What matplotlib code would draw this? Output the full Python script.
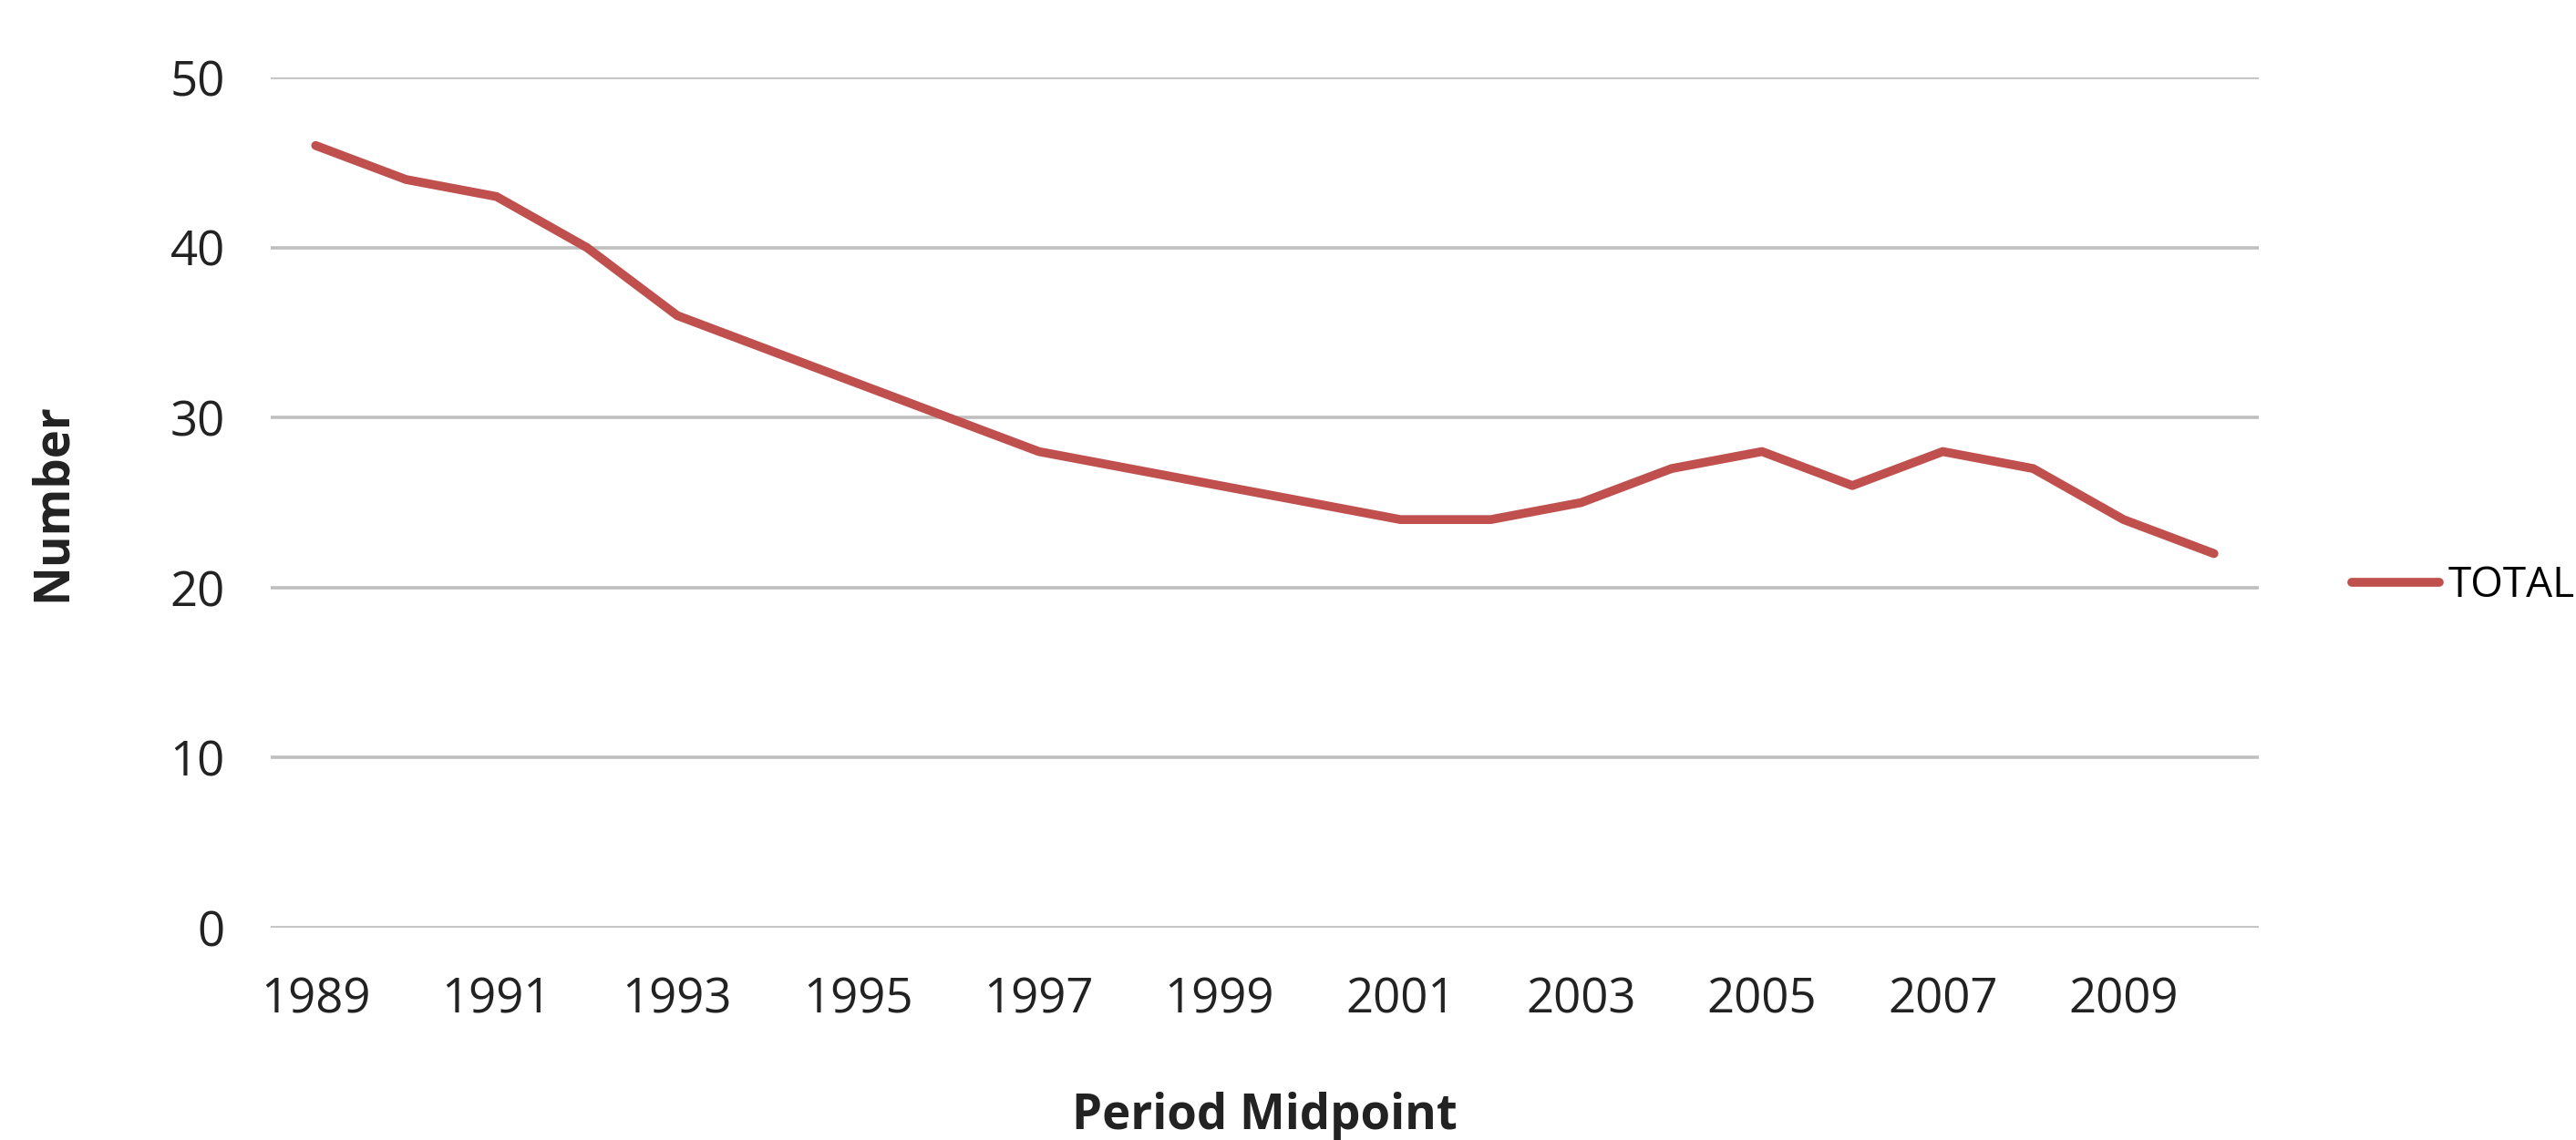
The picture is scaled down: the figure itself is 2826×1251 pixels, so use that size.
import matplotlib
matplotlib.use("Agg")
import matplotlib.pyplot as plt

years = [1989, 1990, 1991, 1992, 1993, 1994, 1995, 1996, 1997, 1998, 1999,
         2000, 2001, 2002, 2003, 2004, 2005, 2006, 2007, 2008, 2009, 2010]
total = [46, 44, 43, 40, 36, 34, 32, 30, 28, 27, 26,
         25, 24, 24, 25, 27, 28, 26, 28, 27, 24, 22]
tick_years = [1989, 1991, 1993, 1995, 1997, 1999, 2001, 2003, 2005, 2007, 2009]
y_ticks = [0, 10, 20, 30, 40, 50]

plt.rcParams['font.family'] = ['Open Sans', 'DejaVu Sans']

fig = plt.figure(figsize=(28.26, 12.51), dpi=100)
ax = fig.add_axes([0.105, 0.1863, 0.772, 0.7457])

ax.plot(years, total, color='#C0504D', linewidth=7, solid_capstyle='round',
        solid_joinstyle='round', label='TOTAL', zorder=3)

ax.set_xlim(1988.5, 2010.5)
ax.set_ylim(0, 50)
ax.set_yticks(y_ticks)
ax.set_xticks(tick_years)
ax.set_xticklabels([str(y) for y in tick_years])
ax.grid(axis='y', color='#BFBFBF', linewidth=2.6, zorder=1)
ax.set_axisbelow(True)
for s in ax.spines.values():
    s.set_visible(False)
ax.tick_params(axis='both', length=0, labelsize=38, colors='#222222')
ax.tick_params(axis='y', pad=36)
ax.tick_params(axis='x', pad=38)

ax.set_ylabel('Number', fontsize=38, fontweight='bold', color='#222222')
ax.yaxis.set_label_coords(-0.097, 0.5)
ax.set_xlabel('Period Midpoint', fontsize=38, fontweight='bold', color='#222222')
ax.xaxis.set_label_coords(0.5, -0.193)

ax.legend(loc='center left', bbox_to_anchor=(0.913, 0.486), bbox_transform=fig.transFigure,
          frameon=False, fontsize=33, handlelength=2.1, handletextpad=0.2,
          borderpad=0, borderaxespad=0)

fig.savefig('out.png', dpi=100)
